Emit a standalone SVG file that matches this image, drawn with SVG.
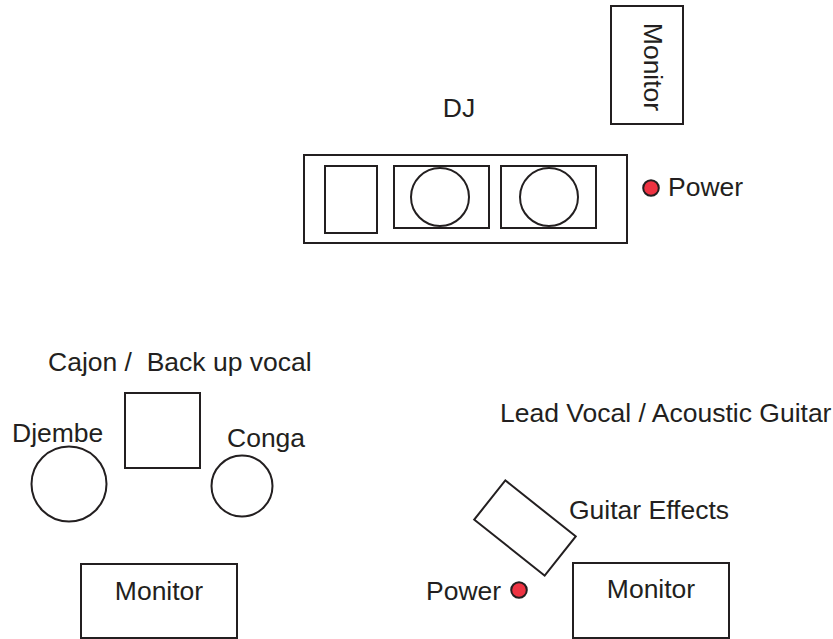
<svg xmlns="http://www.w3.org/2000/svg" width="833" height="639" viewBox="0 0 833 639">
<style>
.s{fill:#fff;stroke:#231f20;stroke-width:2}
.t{font-family:"Liberation Sans",Arial,sans-serif;font-size:26.5px;fill:#231f20}
.p{fill:#ee3342;stroke:#231f20;stroke-width:2}
</style>
<rect width="833" height="639" fill="#fff"/>
<g id="monitor-top">
<rect class="s" x="611" y="6" width="72" height="118"/>
<text class="t" transform="translate(644,67) rotate(90)" text-anchor="middle">Monitor</text>
</g>
<g id="dj-label"><text class="t" x="459" y="117" text-anchor="middle">DJ</text></g>
<g id="dj-console">
<rect class="s" x="304" y="155" width="323" height="88"/>
<rect class="s" x="325" y="166" width="52" height="67"/>
<rect class="s" x="394" y="166" width="95" height="62"/>
<circle class="s" cx="440" cy="197" r="29"/>
<rect class="s" x="501" y="166" width="95" height="62"/>
<circle class="s" cx="549" cy="197" r="29"/>
</g>
<g id="power-top">
<circle class="p" cx="651" cy="188" r="7.8"/>
<text class="t" x="668" y="196">Power</text>
</g>
<g id="cajon">
<text class="t" x="48" y="371" xml:space="preserve">Cajon /  Back up vocal</text>
<rect class="s" x="125" y="393" width="75" height="75"/>
</g>
<g id="djembe">
<text class="t" x="12" y="442">Djembe</text>
<circle class="s" cx="69" cy="484" r="37.5"/>
</g>
<g id="conga">
<text class="t" x="227" y="447">Conga</text>
<circle class="s" cx="242" cy="486" r="30.5"/>
</g>
<g id="monitor-left">
<rect class="s" x="81" y="564" width="156" height="74"/>
<text class="t" x="159" y="600" text-anchor="middle">Monitor</text>
</g>
<g id="lead-vocal"><text class="t" x="500" y="422">Lead Vocal / Acoustic Guitar</text></g>
<g id="guitar-effects">
<rect class="s" x="480" y="503" width="90" height="50" transform="rotate(38.5 525 528)"/>
<text class="t" x="569" y="519">Guitar Effects</text>
</g>
<g id="power-bottom">
<text class="t" x="426" y="600">Power</text>
<circle class="p" cx="519" cy="590" r="7.8"/>
</g>
<g id="monitor-right">
<rect class="s" x="573" y="563" width="156" height="75"/>
<text class="t" x="651" y="598" text-anchor="middle">Monitor</text>
</g>
<g id="connectors"></g>
</svg>
